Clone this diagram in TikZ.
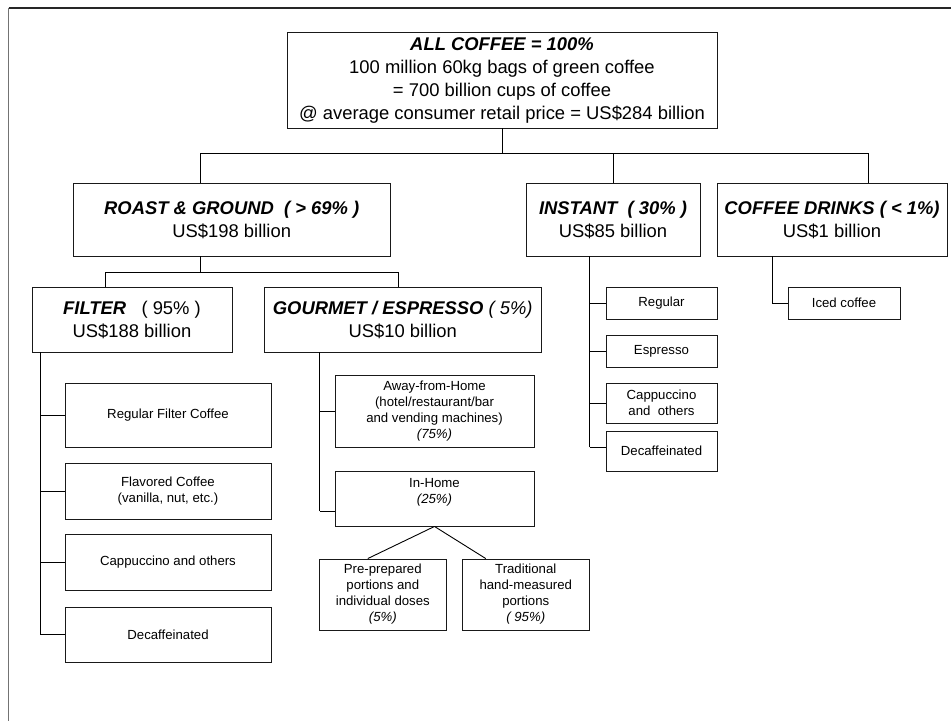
\documentclass[tikz,border=0pt]{standalone}
\usepackage{fontspec}
\setmainfont{Liberation Sans}
\begin{document}
\begin{tikzpicture}[x=1pt,y=-1pt,
  box/.style={draw=black!90, line width=0.9pt, inner sep=0pt, align=center, anchor=center},
  bigtxt/.style={font=\fontsize{18.4}{23}\selectfont},
  smalltxt/.style={font=\fontsize{13.2}{16}\selectfont},
  conn/.style={draw=black, line width=0.9pt}]
\useasboundingbox (0,0) rectangle (951,721);
% frame
\draw[black!85, line width=1.6pt] (8.5,8) -- (951,8);
\draw[black!55, line width=1.6pt] (8.5,8) -- (8.5,721);

% level 0
\node[box,bigtxt,minimum width=430,minimum height=96] (all) at (502,80)
  {\textbf{\textit{ALL COFFEE = 100\%}}\\100 million 60kg bags of green coffee\\= 700 billion cups of coffee\\@ average consumer retail price = US\$284 billion};

% level 1
\node[box,bigtxt,minimum width=317.5,minimum height=73] (roast) at (231.75,219.5)
  {\textbf{\textit{ROAST \& GROUND\ \ ( > 69\% )}}\\US\$198 billion};
\node[box,bigtxt,minimum width=174,minimum height=73] (instant) at (613,219.5)
  {\textbf{\textit{INSTANT\ \ ( 30\% )}}\\US\$85 billion};
\node[box,bigtxt,minimum width=230,minimum height=73] (drinks) at (832,219.5)
  {\textbf{\textit{COFFEE DRINKS ( < 1\%)}}\\US\$1 billion};

% level 2
\node[box,bigtxt,minimum width=200,minimum height=65] (filter) at (132,319.5)
  {\textbf{\textit{FILTER}}\ \ \ ( 95\% )\\US\$188 billion};
\node[box,bigtxt,minimum width=277.5,minimum height=65] (gourmet) at (402.75,319.5)
  {\textbf{\textit{GOURMET / ESPRESSO}} \textit{( 5\%)}\\US\$10 billion};

% instant children
\node[box,smalltxt,minimum width=111,minimum height=32] (ireg) at (661.5,303) {Regular};
\node[box,smalltxt,minimum width=111,minimum height=32] (iesp) at (661.5,351) {Espresso};
\node[box,smalltxt,minimum width=111,minimum height=40] (icap) at (661.5,403) {Cappuccino\\and\ \ others};
\node[box,smalltxt,minimum width=111,minimum height=40] (idec) at (661.5,451) {Decaffeinated};

% drinks child
\node[box,smalltxt,minimum width=112,minimum height=32] (iced) at (844,303) {Iced coffee};

% filter children
\node[box,smalltxt,minimum width=206,minimum height=64] (freg) at (168,415) {Regular Filter Coffee};
\node[box,smalltxt,minimum width=206,minimum height=56] (fflav) at (168,491) {Flavored Coffee\\(vanilla, nut, etc.)};
\node[box,smalltxt,minimum width=206,minimum height=56] (fcap) at (168,562) {Cappuccino and others};
\node[box,smalltxt,minimum width=206,minimum height=55] (fdec) at (168,634.5) {Decaffeinated};

% gourmet children
\node[box,smalltxt,minimum width=199,minimum height=72] (away) at (434.5,411)
  {Away-from-Home\\(hotel/restaurant/bar\\and vending machines)\\\textit{(75\%)}};
\node[box,minimum width=199,minimum height=55] (inhome) at (434.5,498.5) {};
\node[smalltxt,align=center,inner sep=0pt] (inhometxt) at (434.5,492.5) {In-Home\\\textit{(25\%)}};
\node[box,smalltxt,minimum width=126.4,minimum height=71] (pre) at (382.8,594.5)
  {Pre-prepared\\portions and\\individual doses\\\textit{(5\%)}};
\node[box,smalltxt,minimum width=127.5,minimum height=71] (trad) at (525.75,594.5)
  {Traditional\\hand-measured\\portions\\\textit{( 95\%)}};

% connectors level 0 -> 1
\coordinate (b1) at (200,153);
\coordinate (b2) at (868,153);
\draw[conn] (b1) -- (b2);
\draw[conn] (all.south) -- (all.south |- b1);
\draw[conn] (b1) -- (b1 |- roast.north);
\draw[conn] (instant.north) -- (instant.north |- b1);
\draw[conn] (b2) -- (b2 |- drinks.north);

% roast -> filter / gourmet
\coordinate (r0) at (200,272);
\coordinate (r1) at (105,272);
\coordinate (r2) at (398,272);
\draw[conn] (r0 |- roast.south) -- (r0);
\draw[conn] (r1) -- (r2);
\draw[conn] (r1) -- (r1 |- filter.north);
\draw[conn] (r2) -- (r2 |- gourmet.north);

% filter tree
\coordinate (fx) at (40.6,352);
\draw[conn] (fx |- filter.south) -- (fx |- fdec.west);
\foreach \n in {freg,fflav,fcap,fdec} \draw[conn] (fx |- \n.west) -- (\n.west);

% gourmet tree
\coordinate (gx) at (319.6,352);
\coordinate (inhomeT) at ([yshift=15pt]inhome.south west);
\draw[conn] (gx |- gourmet.south) -- (gx |- inhomeT);
\draw[conn] (gx |- away.west) -- (away.west);
\draw[conn] (gx |- inhomeT) -- (inhomeT);
\draw[conn] (inhome.south) -- ([xshift=-15pt]pre.north);
\draw[conn] (inhome.south) -- ([xshift=-40pt]trad.north);

% instant tree
\coordinate (ix) at (589.5,256);
\coordinate (idecT) at ([yshift=4pt]idec.west);
\draw[conn] (ix |- instant.south) -- (ix |- idecT);
\foreach \n in {ireg,iesp,icap} \draw[conn] (ix |- \n.west) -- (\n.west);
\draw[conn] (ix |- idecT) -- (idecT);

% drinks tree
\coordinate (dx) at (772,256);
\draw[conn] (dx |- drinks.south) -- (dx |- iced.west) -- (iced.west);
\end{tikzpicture}
\end{document}
